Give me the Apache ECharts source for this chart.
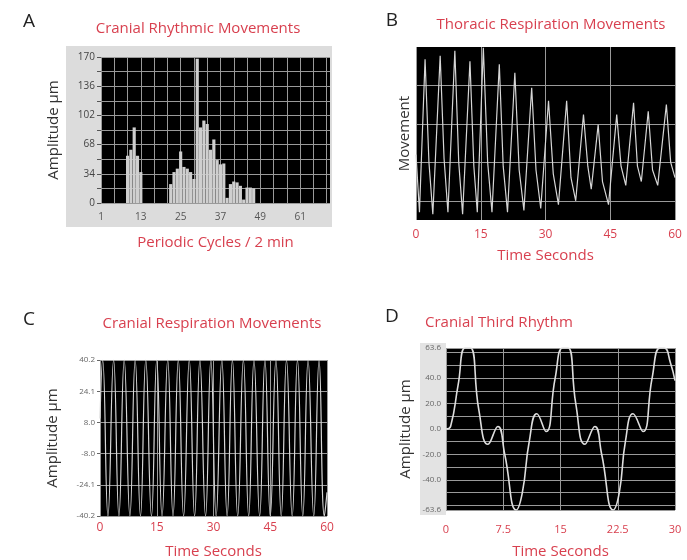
<!DOCTYPE html>
<html>
<head>
<meta charset="utf-8">
<title>Cranial rhythms</title>
<script src="https://cdn.jsdelivr.net/npm/echarts@6/dist/echarts.min.js"></script>
</head>
<body style="margin:0;background:#fff">
<div id="chart" style="width:687px;height:560px"></div>
<script>
// A - cranial rhythmic movements (amplitude per periodic cycle)
var aCycles = [9, 10, 11, 12, 13, 22, 23, 24, 25, 26, 27, 28, 29, 30, 31, 32, 33, 34, 35, 36, 37, 38, 39, 40, 41, 42, 43, 44, 45, 46, 47];
var aAmp    = [55, 62, 88, 55, 36, 22, 36, 40, 60, 42, 40, 36, 28, 168, 88, 96, 92, 62, 74, 50, 45, 46, 6, 22, 25, 24, 20, 4, 18, 18, 17];
var aXLabels = [1, 13, 25, 37, 49, 61];
var aXGrid = [1, 5, 9, 13, 17, 21, 25, 29, 33, 37, 41, 45, 49, 53, 57, 61, 65, 69];
var aYLabels = [0, 34, 68, 102, 136, 170];
var aYGrid = [0, 17, 34, 51, 68, 85, 102, 119, 136, 153, 170];

// B - thoracic respiration (arbitrary units)
var bTime = [0, 0.8, 2.1, 3.0, 3.9, 5.6, 6.5, 7.4, 9.0, 9.9, 10.8, 12.5, 13.4, 14.2, 15.6, 16.6, 17.6, 19.3, 20.2, 21.2,
             22.9, 23.9, 25.0, 26.8, 27.8, 28.9, 30.7, 31.8, 33.0, 34.9, 35.9, 37.0, 38.8, 39.8, 40.6, 42.2, 43.2, 44.6,
             46.5, 47.5, 48.6, 50.4, 51.3, 52.2, 53.8, 54.8, 56.0, 58.0, 59.0, 60];
var bMove = [1.2, -0.3, 3.68, 1.0, -0.35, 3.77, 1.1, -0.3, 3.9, 1.0, -0.35, 3.63, 0.9, -0.3, 3.98, 1.0, -0.3, 3.55, 0.9, -0.3,
             3.33, 0.8, -0.25, 2.94, 0.8, -0.2, 2.6, 0.7, -0.1, 2.6, 0.6, 0.0, 2.24, 0.9, 0.3, 1.98, 0.5, -0.1,
             2.24, 0.9, 0.4, 2.55, 0.9, 0.5, 2.33, 0.8, 0.4, 2.5, 1.0, 0.6];
var bGrid = [0, 1, 2, 3];

// C - cranial respiration movements
var cTime = [0, 0.7, 2.1, 3.6, 5.0, 6.4, 7.9, 9.3, 10.7, 12.1, 13.6, 15.0, 16.4, 17.9, 19.3, 20.7, 22.1, 23.6, 25.0, 26.4, 27.9,
             29.3, 30.7, 32.2, 33.6, 35.0, 36.4, 37.9, 39.3, 40.7, 42.2, 43.6, 45.0, 46.5, 47.9, 49.3, 50.8, 52.2, 53.6,
             55.0, 56.5, 57.9, 59.3, 60];
var cAmp = [10, 40.2, -40.2, 40.2, -40.2, 40.2, -40.2, 40.2, -40.2, 40.2, -40.2, 40.2, -40.2, 40.2, -40.2, 40.2, -40.2, 40.2, -40.2,
            40.2, -40.2, 40.2, -40.2, 40.2, -40.2, 40.2, -40.2, 40.2, -40.2, 40.2, -40.2, 40.2, -40.2, 40.2, -40.2, 40.2, -40.2,
            40.2, -40.2, 40.2, -40.2, 40.2, -40.2, -28];
var cYLabels = [-40.2, -24.1, -8.0, 8.0, 24.1, 40.2];

// D - cranial third rhythm
var dTime = [0, 0.6, 1.6, 2.5, 3.2, 4.3, 5.5, 6.8, 7.7, 9.2, 10.0, 10.9, 11.9, 13.1, 14.3, 15.3, 16.0, 17.0, 18.2, 19.5,
             20.4, 21.9, 22.7, 23.5, 24.5, 25.8, 27.0, 28.0, 28.6, 29.4, 30];
var dAmp = [0, 2, 35, 63.6, 63.6, 15, -12, 2, -20, -63.6, -50, -10, 12, -2, 40, 63.6, 63.6, 20, -12, 2,
            -20, -63.6, -50, -10, 12, -2, 40, 63.6, 63.6, 52, 38];
var dYLabels = [-63.6, -40, -20, 0, 20, 40, 63.6];
var dYGrid = [-63.6, -60, -50, -40, -30, -20, -10, 0, 10, 20, 30, 40, 50, 60, 63.6];

function zip(xs, ys) {
    var out = [];
    for (var i = 0; i < xs.length; i++) out.push([xs[i], ys[i]]);
    return out;
}

var red = '#d8404f';
var gridLine = { show: true, lineStyle: { color: '#9a9a9a', width: 1 } };
var font = '"Open Sans", Lato, sans-serif';

var chart = echarts.init(document.getElementById('chart'));

function panelText(x, y, text, size, color, align) {
    return {
        type: 'text', x: x, y: y, silent: true,
        style: { text: text, font: size + 'px ' + font, fill: color, align: align || 'center', verticalAlign: 'middle' }
    };
}

var option = {
    animation: false,
    backgroundColor: '#fff',
    textStyle: { fontFamily: font },
    graphic: [
        { type: 'rect', shape: { x: 66, y: 46, width: 266, height: 181 }, style: { fill: '#dcdcdc' }, z: -10 },
        { type: 'rect', shape: { x: 420, y: 343, width: 26, height: 172 }, style: { fill: '#e3e3e3' }, z: -10 },
        panelText(29, 22, 'A', 19, '#222'),
        panelText(392, 21, 'B', 19, '#222'),
        panelText(29, 320, 'C', 19, '#222'),
        panelText(392, 317, 'D', 19, '#222'),
        panelText(198, 29, 'Cranial Rhythmic Movements', 15, red),
        panelText(551, 25, 'Thoracic Respiration Movements', 15, red),
        panelText(212, 324, 'Cranial Respiration Movements', 15, red),
        panelText(425, 323, 'Cranial Third Rhythm', 15, red, 'left')
    ],
    grid: [
        { left: 101, top: 57, width: 229, height: 146, show: true, backgroundColor: '#000', borderWidth: 0 },
        { left: 416, top: 47, width: 259, height: 173, show: true, backgroundColor: '#000', borderWidth: 0 },
        { left: 100, top: 360, width: 227, height: 159, show: true, backgroundColor: '#000', borderWidth: 0 },
        { left: 446, top: 348, width: 229, height: 164, show: true, backgroundColor: '#000', borderWidth: 0 }
    ],
    xAxis: [
        {
            gridIndex: 0, type: 'value', min: 1, max: 70,
            name: 'Periodic Cycles / 2 min', nameLocation: 'middle', nameGap: 32,
            nameTextStyle: { color: red, fontSize: 15 },
            axisLine: { show: false },
            axisTick: { show: false, customValues: aXGrid },
            axisLabel: { customValues: aXLabels, color: '#555', fontSize: 10, margin: 9 },
            splitLine: gridLine
        },
        {
            gridIndex: 1, type: 'value', min: 0, max: 60, interval: 15,
            name: 'Time Seconds', nameLocation: 'middle', nameGap: 28,
            nameTextStyle: { color: red, fontSize: 15 },
            axisLine: { show: false }, axisTick: { show: false },
            axisLabel: { color: red, fontSize: 12, margin: 9 },
            splitLine: gridLine
        },
        {
            gridIndex: 2, type: 'value', min: 0, max: 60, interval: 15,
            name: 'Time Seconds', nameLocation: 'middle', nameGap: 28,
            nameTextStyle: { color: red, fontSize: 15 },
            axisLine: { show: false }, axisTick: { show: false },
            axisLabel: { color: red, fontSize: 12, margin: 6 },
            splitLine: gridLine
        },
        {
            gridIndex: 3, type: 'value', min: 0, max: 30, interval: 7.5,
            name: 'Time Seconds', nameLocation: 'middle', nameGap: 34,
            nameTextStyle: { color: red, fontSize: 15 },
            axisLine: { show: false }, axisTick: { show: false },
            axisLabel: { color: red, fontSize: 11, margin: 14 },
            splitLine: gridLine
        }
    ],
    yAxis: [
        {
            gridIndex: 0, type: 'value', min: 0, max: 170,
            name: 'Amplitude µm', nameLocation: 'middle', nameGap: 40,
            nameTextStyle: { color: '#333', fontSize: 15 },
            axisLine: { show: false },
            axisTick: { show: true, length: 4, customValues: aYGrid, lineStyle: { color: '#555' } },
            axisLabel: { customValues: aYLabels, color: '#444', fontSize: 10, margin: 6 },
            splitLine: gridLine
        },
        {
            gridIndex: 1, type: 'value', min: -0.5, max: 4,
            name: 'Movement', nameLocation: 'middle', nameGap: 4,
            nameTextStyle: { color: '#333', fontSize: 15 },
            axisLine: { show: false },
            axisTick: { show: false, customValues: bGrid },
            axisLabel: { show: false },
            splitLine: gridLine
        },
        {
            gridIndex: 2, type: 'value', min: -40.2, max: 40.2,
            name: 'Amplitude µm', nameLocation: 'middle', nameGap: 40,
            nameTextStyle: { color: '#333', fontSize: 15 },
            axisLine: { show: false },
            axisTick: { show: true, length: 3, customValues: cYLabels, lineStyle: { color: '#666' } },
            axisLabel: { customValues: cYLabels, color: '#666', fontSize: 8, margin: 5,
                formatter: function (v) { return v.toFixed(1); } },
            splitLine: gridLine
        },
        {
            gridIndex: 3, type: 'value', min: -63.6, max: 63.6,
            name: 'Amplitude µm', nameLocation: 'middle', nameGap: 33,
            nameTextStyle: { color: '#333', fontSize: 15 },
            axisLine: { show: false },
            axisTick: { show: false, customValues: dYGrid },
            axisLabel: { customValues: dYLabels, color: '#666', fontSize: 8, margin: 5,
                formatter: function (v) { return v.toFixed(1); } },
            splitLine: gridLine
        }
    ],
    series: [
        {
            type: 'bar', xAxisIndex: 0, yAxisIndex: 0,
            data: zip(aCycles, aAmp),
            barWidth: '95%',
            itemStyle: { color: '#cfcfcf' }
        },
        {
            type: 'line', xAxisIndex: 1, yAxisIndex: 1,
            data: zip(bTime, bMove),
            showSymbol: false,
            lineStyle: { color: '#d6d6d6', width: 1.2 }
        },
        {
            type: 'line', xAxisIndex: 2, yAxisIndex: 2,
            data: zip(cTime, cAmp),
            smooth: 0.5, showSymbol: false,
            lineStyle: { color: '#d6d6d6', width: 1.2 }
        },
        {
            type: 'line', xAxisIndex: 3, yAxisIndex: 3,
            data: zip(dTime, dAmp),
            smooth: 0.5, showSymbol: false,
            lineStyle: { color: '#dedede', width: 1.6 }
        }
    ]
};

chart.setOption(option);
</script>
</body>
</html>
